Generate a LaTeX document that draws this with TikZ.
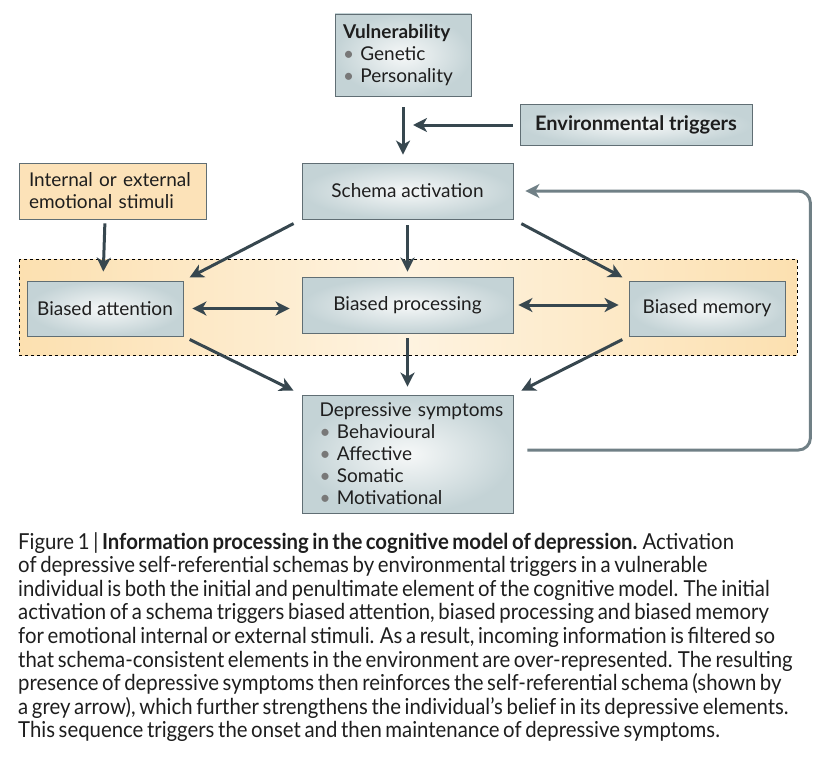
\documentclass[tikz,border=0pt]{standalone}
\usepackage{fontspec}
\setmainfont{Lato}
\newfontfamily\capfont[FakeStretch=0.925, WordSpace=0.7]{Lato}
\usetikzlibrary{arrows.meta}

\definecolor{arrowdark}{RGB}{55,71,79}
\definecolor{arrowgrey}{RGB}{112,128,134}
\definecolor{boxedge}{RGB}{96,110,116}
\definecolor{boxlight}{RGB}{246,248,248}
\definecolor{boxdark}{RGB}{196,211,214}
\definecolor{stimfill}{RGB}{252,226,184}
\definecolor{bandedge}{RGB}{252,224,176}
\definecolor{bandmid}{RGB}{254,243,224}
\definecolor{textdark}{RGB}{30,30,30}
\definecolor{bulletgrey}{RGB}{120,120,120}

\newcommand{\bul}{\textcolor{bulletgrey}{\textbullet}~}

\begin{document}
\begin{tikzpicture}[
  x=1pt, y=-1pt,
  every node/.style={
    font=\fontsize{19}{22}\selectfont,
    text=textdark,
  },
  stage/.style={
    draw=boxedge,
    line width=0.8pt,
    inner color=boxlight,
    outer color=boxdark,
    minimum width=211pt,
    minimum height=56pt,
  },
  bias/.style={
    stage,
    minimum width=156pt,
    minimum height=55pt,
  },
  link/.style={
    draw=arrowdark,
    line width=3pt,
    -{Stealth[length=14pt,width=14pt,inset=4pt]},
  },
  both/.style={
    link,
    {Stealth[length=14pt,width=14pt,inset=4pt]}-{Stealth[length=14pt,width=14pt,inset=4pt]},
  },
  feedback/.style={
    link,
    draw=arrowgrey,
    rounded corners=12pt,
  },
]
\useasboundingbox (0,0) rectangle (829,765);

% Filtering band behind the biased stages
\path[draw=black, dashed, line width=0.6pt, left color=bandedge, right color=bandedge, middle color=bandmid]
  (19,259) rectangle (797,355);

% Top row
\node[stage, minimum width=136pt, minimum height=82pt, text width=120pt, align=left] (vuln) at (403,55)
  {\textbf{Vulnerability}\\ \bul Genetic\\ \bul Personality};
\node[stage, minimum width=232pt, minimum height=41pt, font=\fontsize{20}{22}\selectfont] (env) at (636,125)
  {\textbf{Environmental triggers}};
\node[stage] (schema) at (407.5,191) {Schema activation};
\node[draw=boxedge, line width=0.8pt, fill=stimfill, minimum width=187pt, minimum height=56pt,
  text width=167pt, align=left] (stimuli) at (112.5,191)
  {Internal or external\\ emotional stimuli};

% Biased stages
\node[bias] (attention) at (105,308.5) {Biased attention};
\node[stage] (processing) at (407.5,305) {Biased processing};
\node[bias] (memory) at (707,308.5) {Biased memory};

% Outcome
\node[stage, minimum height=118pt, text width=176pt, align=left] (symptoms) at (407.5,454)
  {\mbox{Depressive symptoms}\\ \bul Behavioural\\ \bul Affective\\ \bul Somatic\\ \bul Motivational};

\coordinate (join) at (vuln.south |- env.west);

% Connectors
\draw[link, shorten <=11pt, shorten >=8pt] (vuln.south) -- (vuln.south |- schema.north);
\draw[link, shorten <=7pt, shorten >=10pt] (env.west) -- (join);
\draw[link, shorten <=4pt, shorten >=9pt] (attention.north |- stimuli.south) -- ([xshift=-2pt]attention.north);
\draw[link, shorten <=9pt, shorten >=7pt] (schema.south west) -- (attention.north east);
\draw[link, shorten <=6pt, shorten >=5pt] (schema.south) -- (processing.north);
\draw[link, shorten <=9pt, shorten >=7pt] (schema.south east) -- (memory.north west);
\draw[both, shorten <=9pt, shorten >=12pt] (attention.east) -- (attention.east -| processing.west);
\draw[both, shorten <=5pt, shorten >=10pt] (processing.east) -- (processing.east -| memory.west);
\draw[link, shorten <=7pt, shorten >=9pt] (attention.south east) -- (symptoms.north west);
\draw[link, shorten <=5pt, shorten >=8pt] (processing.south) -- (symptoms.north);
\draw[link, shorten <=7pt, shorten >=9pt] (memory.south west) -- (symptoms.north east);
\draw[feedback, shorten <=14pt, shorten >=12pt]
  ([yshift=4pt]symptoms.east) -- ++(297,0) |- (schema.east);

% Caption
\node[anchor=north west, inner sep=0pt, align=left, font=\capfont\fontsize{22}{23.6}\selectfont] (caption) at (18,532)
  {Figure 1 | \textbf{Information processing in the cognitive model of depression.} Activation\\
   of depressive self-referential schemas by environmental triggers in a vulnerable\\
   individual is both the initial and penultimate element of the cognitive model. The initial\\
   activation of a schema triggers biased attention, biased processing and biased memory\\
   for emotional internal or external stimuli. As a result, incoming information is filtered so\\
   that schema-consistent elements in the environment are over-represented. The resulting\\
   presence of depressive symptoms then reinforces the self-referential schema (shown by\\
   a grey arrow), which further strengthens the individual’s belief in its depressive elements.\\
   This sequence triggers the onset and then maintenance of depressive symptoms.};
\end{tikzpicture}
\end{document}
